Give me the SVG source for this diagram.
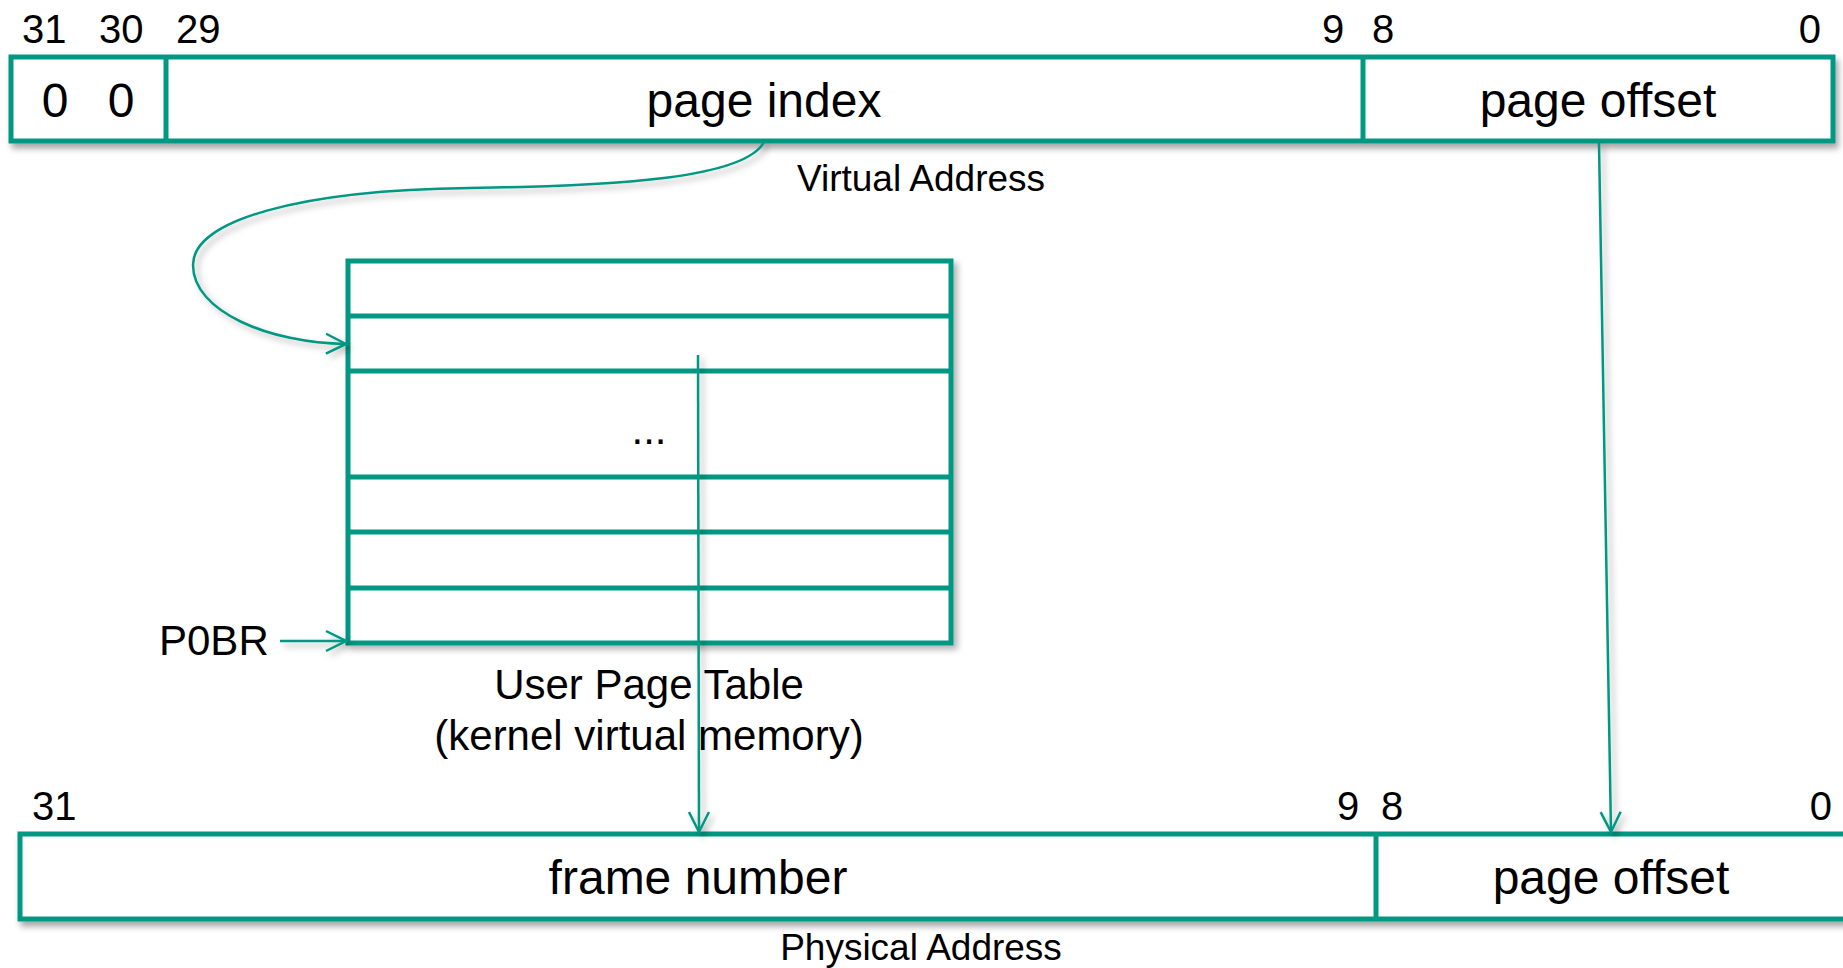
<svg xmlns="http://www.w3.org/2000/svg" width="1843" height="968" viewBox="0 0 1843 968">
<style>
.box{fill:#fff;stroke:#009882;stroke-width:5;stroke-linejoin:miter}
.ln{fill:none;stroke:#009882;stroke-width:5}
.con{fill:none;stroke:#009882;stroke-width:2.5}
text{font-family:"Liberation Sans",Arial,sans-serif;fill:#000}
.big{font-size:48px;text-anchor:middle}
.lbl{font-size:40px}
.cap{font-size:37px;text-anchor:middle}
.mid{font-size:42px;text-anchor:middle}
</style>
<defs>
<filter id="sh" x="-5%" y="-20%" width="110%" height="150%">
<feDropShadow dx="3" dy="5" stdDeviation="3" flood-color="#000" flood-opacity="0.35"/>
</filter>
<filter id="shl" x="-20%" y="-5%" width="140%" height="110%">
<feDropShadow dx="4" dy="4" stdDeviation="3" flood-color="#000" flood-opacity="0.3"/>
</filter>
<marker id="arr" viewBox="0 0 24 24" refX="22" refY="12" markerWidth="24" markerHeight="24" markerUnits="userSpaceOnUse" orient="auto">
<path d="M2,2 L22,12 L2,22" fill="none" stroke="#009882" stroke-width="2.5"/>
</marker>
</defs>
<rect width="1843" height="968" fill="#fff"/>

<g id="virtual-address">
<g filter="url(#sh)">
<rect class="box" x="11" y="57" width="1822" height="84"/>
<line class="ln" x1="166" y1="57" x2="166" y2="141"/>
<line class="ln" x1="1363" y1="57" x2="1363" y2="141"/>
</g>
<text class="lbl" x="22" y="43">31</text>
<text class="lbl" x="99" y="43">30</text>
<text class="lbl" x="176" y="43">29</text>
<text class="lbl" x="1322" y="43">9</text>
<text class="lbl" x="1372" y="43">8</text>
<text class="lbl" x="1821" y="43" text-anchor="end">0</text>
<text class="big" x="55" y="117">0</text>
<text class="big" x="121" y="117">0</text>
<text class="big" x="764" y="117">page index</text>
<text class="big" x="1598" y="117">page offset</text>
<text class="cap" x="921" y="191">Virtual Address</text>
</g>

<g id="page-table">
<g filter="url(#shl)">
<rect class="box" x="348" y="261" width="603" height="382"/>
<line class="ln" x1="348" y1="316" x2="951" y2="316"/>
<line class="ln" x1="348" y1="371" x2="951" y2="371"/>
<line class="ln" x1="348" y1="477" x2="951" y2="477"/>
<line class="ln" x1="348" y1="532" x2="951" y2="532"/>
<line class="ln" x1="348" y1="588" x2="951" y2="588"/>
</g>
<text class="mid" x="649" y="444">...</text>
<text class="mid" x="649" y="699">User Page Table</text>
<text class="mid" x="649" y="750">(kernel virtual memory)</text>
</g>

<g id="p0br">
<text style="font-size:42px" x="159" y="655">P0BR</text>
</g>

<g id="physical-address">
<g filter="url(#sh)">
<rect class="box" x="20" y="834" width="1830" height="85"/>
<line class="ln" x1="1376" y1="834" x2="1376" y2="919"/>
</g>
<text class="lbl" x="32" y="820">31</text>
<text class="lbl" x="1337" y="820">9</text>
<text class="lbl" x="1381" y="820">8</text>
<text class="lbl" x="1832" y="820" text-anchor="end">0</text>
<text class="big" x="698" y="894">frame number</text>
<text class="big" x="1611" y="894">page offset</text>
<text class="cap" x="921" y="960">Physical Address</text>
</g>

<g id="connectors" filter="url(#shl)">
<path class="con" d="M764,142 C745,178 620,186 470,188 C300,190 193,220 193,265 C193,312 270,343 346,344" marker-end="url(#arr)"/>
<line class="con" x1="280" y1="641" x2="346" y2="641" marker-end="url(#arr)"/>
<line class="con" x1="698" y1="355" x2="699" y2="832" marker-end="url(#arr)"/>
<line class="con" x1="1599" y1="143" x2="1611" y2="832" marker-end="url(#arr)"/>
</g>
</svg>
